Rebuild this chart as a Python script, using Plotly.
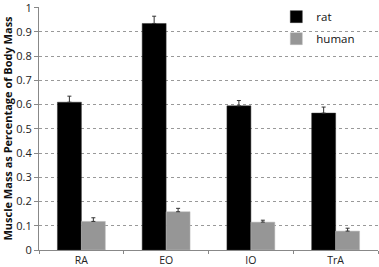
import plotly.graph_objects as go

categories = ["RA", "EO", "IO", "TrA"]
rat = [0.61, 0.935, 0.595, 0.565]
rat_err = [0.025, 0.03, 0.022, 0.025]
human = [0.118, 0.158, 0.115, 0.078]
human_err = [0.015, 0.014, 0.008, 0.012]
yticks = [0, 0.1, 0.2, 0.3, 0.4, 0.5, 0.6, 0.7, 0.8, 0.9, 1]
ytick_text = ["0", "0.1", "0.2", "0.3", "0.4", "0.5", "0.6", "0.7", "0.8", "0.9", "1"]

fig = go.Figure()
fig.add_trace(go.Bar(
    x=categories, y=rat, name="rat", legendgroup="a",
    marker=dict(color="black", line=dict(color="#333", width=0.5)),
    error_y=dict(type="data", array=rat_err, symmetric=False, arrayminus=[0]*4,
                 color="#333", thickness=1, width=2),
))
fig.add_trace(go.Bar(
    x=categories, y=human, name="human", legendgroup="b",
    marker=dict(color="#969696", line=dict(color="#bbb", width=0.5)),
    error_y=dict(type="data", array=human_err, symmetric=False, arrayminus=[0]*4,
                 color="#333", thickness=1, width=2),
))

fig.update_layout(
    width=379, height=267,
    margin=dict(l=39, r=1, t=7, b=17),
    plot_bgcolor="white", paper_bgcolor="white",
    barmode="group", bargap=0.435, bargroupgap=0,
    font=dict(family="Open Sans, Liberation Sans, sans-serif", size=11, color="#222"),
    showlegend=True,
    legend=dict(x=0.70, y=1.02, xanchor="left", yanchor="top",
                bgcolor="rgba(0,0,0,0)", font=dict(size=11.5, color="#111"),
                itemwidth=30, tracegroupgap=3, traceorder="grouped"),
)
fig.update_xaxes(
    showline=True, linecolor="#888", linewidth=1,
    ticks="outside", tickson="boundaries", ticklen=3, tickcolor="#888",
    showgrid=False, tickfont=dict(size=10.5, color="#222"), automargin=False,
)
fig.update_yaxes(
    range=[0, 1.003], tickmode="array", tickvals=yticks, ticktext=ytick_text,
    showline=True, linecolor="#888", linewidth=1,
    ticks="outside", ticklen=4, tickcolor="#888",
    showgrid=True, gridcolor="#999", griddash="dot", gridwidth=1,
    zeroline=False, tickfont=dict(size=11, color="#222"), automargin=False,
    ticklabeloverflow="allow",
    title=dict(text="<b>Muscle Mass as Percentage of Body Mass</b>",
               font=dict(size=11, color="#111"), standoff=2),
)

fig.write_html("out.html", config={"displayModeBar": False},
               post_script="document.body.style.margin='0';")
